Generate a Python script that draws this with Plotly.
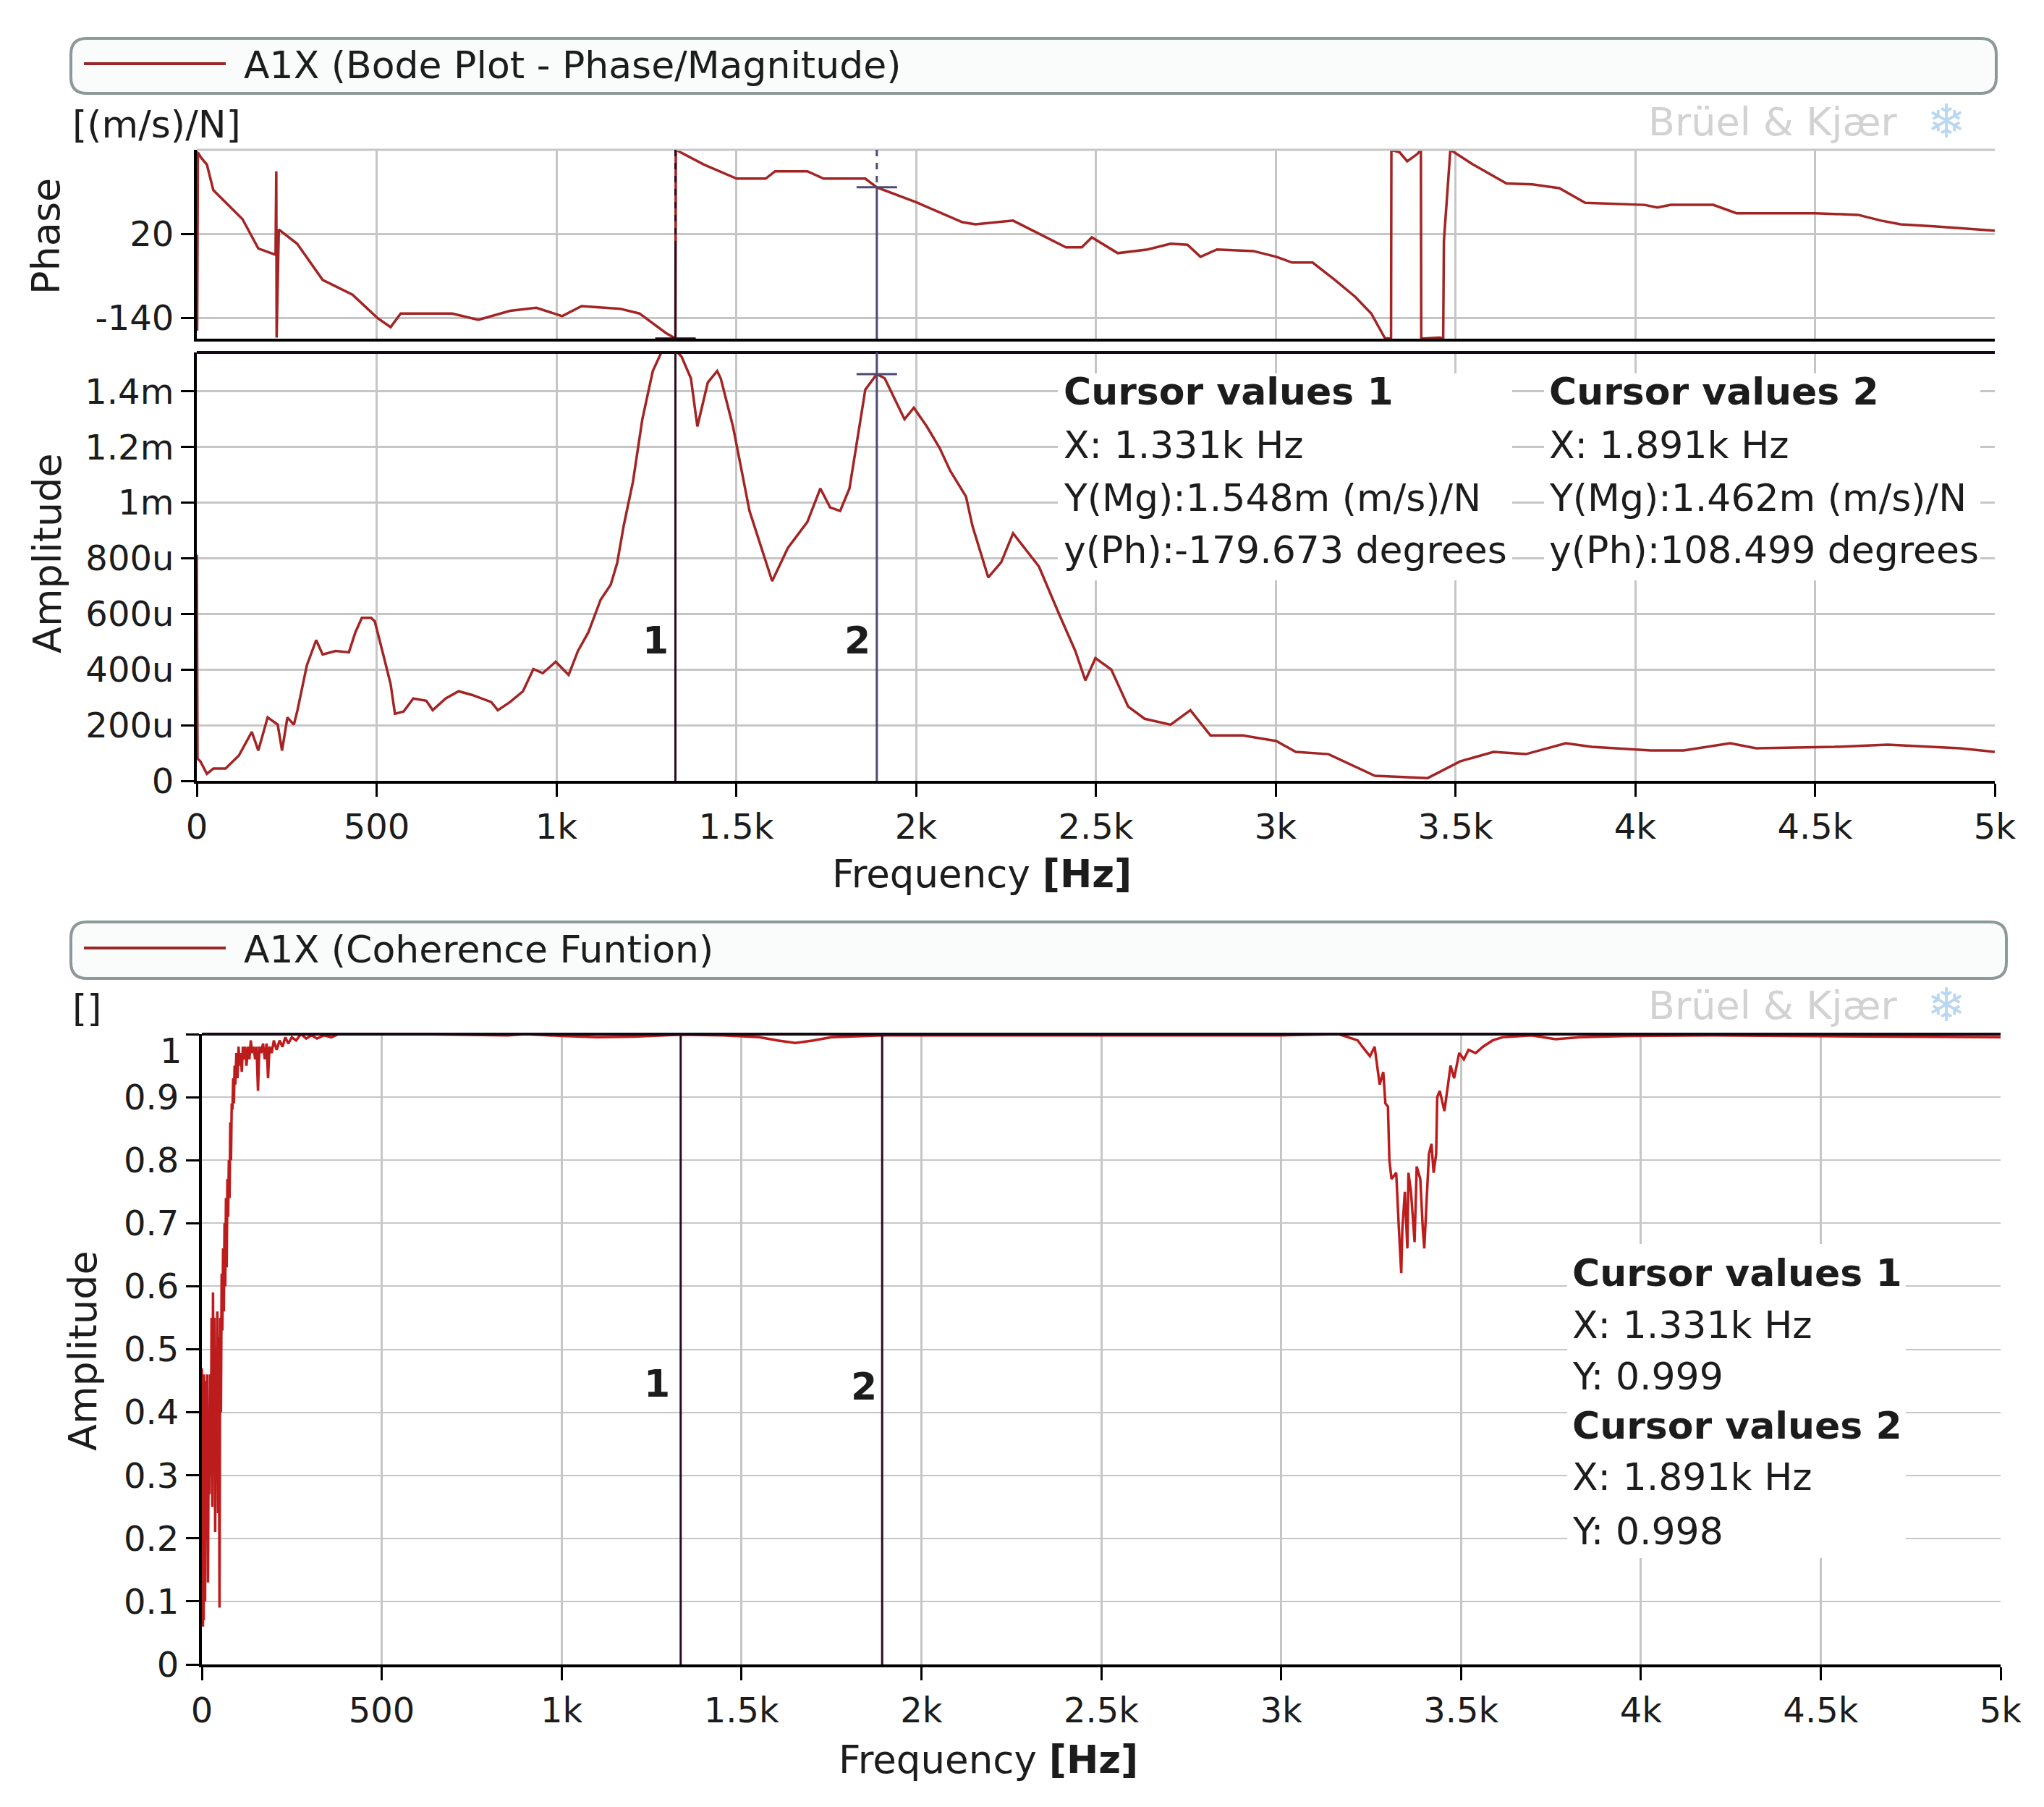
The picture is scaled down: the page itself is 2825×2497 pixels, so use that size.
import plotly.graph_objects as go

W, H = 2825, 2497
FONT = "DejaVu Sans"

# ---------------- data ----------------
freq_ticks = [0, 500, 1000, 1500, 2000, 2500, 3000, 3500, 4000, 4500, 5000]
freq_tick_labels = ["0", "500", "1k", "1.5k", "2k", "2.5k", "3k", "3.5k", "4k", "4.5k", "5k"]

phase_ticks = [-140, 20]
phase_tick_labels = ["-140", "20"]

amp_ticks = [0, 200, 400, 600, 800, 1000, 1200, 1400]          # in micro (m/s)/N
amp_tick_labels = ["0", "200u", "400u", "600u", "800u", "1m", "1.2m", "1.4m"]

coh_ticks = [0, 0.1, 0.2, 0.3, 0.4, 0.5, 0.6, 0.7, 0.8, 0.9, 1.0]
coh_tick_labels = ["0", "0.1", "0.2", "0.3", "0.4", "0.5", "0.6", "0.7", "0.8", "0.9", ""]

phase_freq = [0, 1, 3, 12, 28, 46, 127, 171, 207, 219, 221, 222, 228, 279, 350, 433, 503,
              539, 567, 620, 710, 783, 871, 944, 1016, 1070, 1177, 1231, 1304, 1331, 1332,
              1410, 1501, 1582, 1608, 1698, 1743, 1859, 1891, 2004, 2129, 2165, 2270, 2417,
              2461, 2489, 2561, 2644, 2708, 2755, 2791, 2837, 2938, 3002, 3046, 3103, 3165,
              3221, 3266, 3304, 3321, 3322, 3345, 3366, 3394, 3404, 3405, 3457, 3466, 3468,
              3486, 3549, 3642, 3714, 3789, 3861, 4026, 4062, 4099, 4217, 4282, 4501, 4620,
              4684, 4738, 4831, 4922, 5000]
phase_val = [180, -165, 175, 165, 152, 103, 48, -8, -17, -20, 139, -178, 28, 1, -68, -96, -141,
             -158, -132, -132, -132, -144, -127, -121, -137, -118, -123, -132, -169, -179.673, 180,
             152, 125, 125, 139, 139, 125, 125, 108.499, 79, 42, 38, 45, -6,
             -6, 13, -17, -10, 1, -1, -24, -10, -13, -24, -35, -35, -68,
             -100, -132, -179, -180, 180, 175, 158, 172, 180, -180, -178, -180, 6,
             180, 152, 116, 114, 107, 79, 75, 70, 75, 75, 59, 59, 56,
             45, 38, 34, 30, 26]

amp_freq = [0, 2, 10, 28, 46, 80, 117, 153, 171, 197, 225, 237, 252, 270, 280, 306, 332, 350,
            386, 423, 441, 459, 485, 495, 521, 539, 551, 575, 602, 638, 656, 692, 728, 765,
            819, 837, 871, 907, 936, 962, 998, 1034, 1060, 1089, 1123, 1151, 1169, 1187, 1213,
            1239, 1268, 1294, 1331, 1348, 1374, 1392, 1421, 1447, 1457, 1491, 1537, 1600, 1644,
            1698, 1734, 1761, 1789, 1815, 1859, 1891, 1913, 1942, 1968, 1994, 2030, 2066, 2095,
            2139, 2157, 2201, 2237, 2270, 2342, 2398, 2443, 2471, 2499, 2543, 2590, 2636, 2708,
            2763, 2819, 2909, 3002, 3056, 3147, 3276, 3423, 3513, 3606, 3696, 3807, 3879, 4044,
            4135, 4264, 4336, 4555, 4702, 4903, 5000]
amp_val = [812, 80, 70, 25, 44, 44, 91, 176, 109, 228, 202, 109, 228, 202, 254, 415, 506, 454,
           467, 462, 534, 586, 586, 573, 441, 348, 241, 249, 296, 288, 254, 296, 322, 309,
           283, 254, 283, 322, 402, 387, 428, 381, 467, 534, 651, 705, 783, 916, 1076,
           1300, 1473, 1546, 1548, 1525, 1447, 1274, 1432, 1473, 1447, 1274, 970, 718, 838,
           931, 1051, 983, 970, 1051, 1406, 1462, 1447, 1367, 1300, 1341, 1274, 1196, 1115,
           1022, 916, 731, 786, 890, 770, 599, 467, 361, 441, 400, 267, 223, 202,
           254, 163, 163, 143, 104, 96, 18, 10, 70, 104, 96, 135, 122, 109,
           109, 135, 117, 122, 130, 117, 104]

coh_freq = [0, 1, 2, 3, 4, 5, 6, 7, 8, 9, 10, 12, 13, 15, 17, 19, 21, 23, 25, 27, 29, 31, 33,
            35, 37, 39, 41, 43, 45, 47, 49, 51, 53, 55, 57, 59, 61, 63, 65, 67, 69, 71, 73, 75,
            77, 79, 81, 83, 85, 87, 89, 91, 93, 96, 99, 102, 105, 108, 111, 114, 117, 120, 124,
            128, 132, 136, 140, 144, 148, 152, 156, 160, 165, 170, 175, 180, 184, 188, 194, 200,
            208, 216, 224, 232, 240, 250, 262, 275, 290, 305, 320, 340, 360, 380, 600, 850, 900,
            1000, 1100, 1200, 1331, 1450, 1550, 1600, 1650, 1700, 1750, 1891, 2000, 2200, 2500,
            2800, 3000, 3160, 3186, 3213, 3226, 3247, 3260, 3267, 3274, 3284, 3290, 3297, 3301,
            3307, 3320, 3327, 3334, 3337, 3344, 3351, 3354, 3361, 3371, 3377, 3387, 3394, 3398,
            3404, 3411, 3418, 3424, 3431, 3434, 3441, 3454, 3464, 3471, 3481, 3495, 3508, 3521,
            3541, 3561, 3588, 3615, 3696, 3763, 3830, 3964, 4200, 4500, 4800, 5000]
coh_val = [0.47, 0.08, 0.44, 0.06, 0.38, 0.07, 0.46, 0.15, 0.42, 0.10, 0.33, 0.45, 0.20, 0.46,
           0.13, 0.38, 0.27, 0.46, 0.30, 0.55, 0.25, 0.59, 0.32, 0.55, 0.21, 0.50, 0.30, 0.56,
           0.24, 0.52, 0.09, 0.55, 0.40, 0.62, 0.53, 0.66, 0.56, 0.70, 0.60, 0.74, 0.63, 0.77,
           0.71, 0.80, 0.74, 0.86, 0.80, 0.89, 0.88, 0.93, 0.89, 0.95, 0.92, 0.97, 0.93, 0.98,
           0.95, 0.97, 0.94, 0.98, 0.96, 0.98, 0.95, 0.98, 0.96, 0.99, 0.97, 0.98, 0.96, 0.98,
           0.91, 0.98, 0.97, 0.985, 0.96, 0.985, 0.93, 0.98, 0.97, 0.99, 0.975, 0.99, 0.98,
           0.995, 0.985, 0.995, 0.99, 1.0, 0.993, 0.998, 0.993, 0.998, 0.995, 1.0, 1.0, 0.998,
           1.0, 0.997, 0.995, 0.996, 0.999, 0.998, 0.995, 0.99, 0.986, 0.99, 0.995, 0.998,
           0.998, 0.997, 0.998, 0.997, 0.998, 1.0, 0.995, 0.99, 0.98, 0.965, 0.98, 0.95, 0.92,
           0.94, 0.89, 0.885, 0.80, 0.77, 0.78, 0.696, 0.621, 0.69, 0.75, 0.66, 0.78, 0.75,
           0.67, 0.79, 0.77, 0.69, 0.66, 0.73, 0.81, 0.826, 0.78, 0.81, 0.90, 0.91, 0.878,
           0.92, 0.95, 0.93, 0.97, 0.96, 0.975, 0.97, 0.98, 0.99, 0.995, 0.998, 0.992, 0.995,
           0.997, 0.998, 0.997, 0.996, 0.995]

cursor_freq = [1331, 1891]
cursor_mag = [1548, 1462]          # micro (m/s)/N
cursor_phase = [-179.673, 108.499]
cursor_coh = [0.999, 0.998]

# ---------------- helpers ----------------
def PX(x):
    return x / W


def PY(y):
    return 1 - y / H


def rrect(x0, y0, x1, y1, r):
    X, Y = PX, PY
    return (f"M {X(x0 + r)},{Y(y0)} L {X(x1 - r)},{Y(y0)} Q {X(x1)},{Y(y0)} {X(x1)},{Y(y0 + r)} "
            f"L {X(x1)},{Y(y1 - r)} Q {X(x1)},{Y(y1)} {X(x1 - r)},{Y(y1)} L {X(x0 + r)},{Y(y1)} "
            f"Q {X(x0)},{Y(y1)} {X(x0)},{Y(y1 - r)} L {X(x0)},{Y(y0 + r)} Q {X(x0)},{Y(y0)} {X(x0 + r)},{Y(y0)} Z")


TRACE = "#a32424"
TRACE_COH = "#bd1c1c"
TXT = "#1c1c1c"
GRID = "#c6c6c6"
CUR_TOP = ["#2b0c1f", "#4d4a6e"]
CUR_BOT = ["#2b0c1f", "#2b0c1f"]

fig = go.Figure()

fig.add_trace(go.Scatter(x=amp_freq, y=amp_val, xaxis="x", yaxis="y2", mode="lines",
                         line=dict(color=TRACE, width=3.5), hoverinfo="skip"))
fig.add_trace(go.Scatter(x=phase_freq, y=phase_val, xaxis="x2", yaxis="y", mode="lines",
                         line=dict(color=TRACE, width=3.5), hoverinfo="skip"))
fig.add_trace(go.Scatter(x=coh_freq, y=coh_val, xaxis="x3", yaxis="y3", mode="lines",
                         line=dict(color=TRACE_COH, width=3.5), hoverinfo="skip"))

# cursor markers
for i in range(2):
    fig.add_trace(go.Scatter(x=[cursor_freq[i]], y=[cursor_mag[i]], xaxis="x", yaxis="y2",
                             mode="markers", cliponaxis=False, hoverinfo="skip",
                             marker=dict(symbol="line-ew", size=40, line=dict(color=CUR_TOP[i], width=3))))
    fig.add_trace(go.Scatter(x=[cursor_freq[i]], y=[cursor_phase[i]], xaxis="x2", yaxis="y",
                             mode="markers", cliponaxis=False, hoverinfo="skip",
                             marker=dict(symbol="line-ew", size=40, line=dict(color=CUR_TOP[i], width=3))))

axis_common = dict(showgrid=True, gridcolor=GRID, gridwidth=3, zeroline=False,
                   ticks="outside", ticklen=18, tickwidth=3, tickcolor="#000",
                   tickfont=dict(family=FONT, size=48, color=TXT),
                   linecolor="#000", linewidth=4, showline=True, fixedrange=True)

fig.update_layout(
    width=W, height=H, margin=dict(l=0, r=0, t=0, b=0, autoexpand=False),
    paper_bgcolor="white", plot_bgcolor="white", showlegend=False,
    font=dict(family=FONT, color=TXT),
    xaxis=dict(domain=[PX(272), PX(2757)], anchor="y2", range=[0, 5000],
               tickvals=freq_ticks, ticktext=freq_tick_labels, **axis_common),
    xaxis2=dict(domain=[PX(272), PX(2757)], anchor="y", range=[0, 5000],
                tickvals=freq_ticks, showticklabels=False,
                **{**axis_common, "ticks": ""}),
    yaxis=dict(domain=[PY(468), PY(207)], anchor="x2", range=[-180, 180],
               tickvals=phase_ticks, ticktext=phase_tick_labels, **axis_common),
    yaxis2=dict(domain=[PY(1079), PY(487)], anchor="x", range=[0, 1540],
                tickvals=amp_ticks, ticktext=amp_tick_labels, **axis_common),
    xaxis3=dict(domain=[PX(279), PX(2765)], anchor="y3", range=[0, 5000],
                tickvals=freq_ticks, ticktext=freq_tick_labels, **axis_common),
    yaxis3=dict(domain=[PY(2300), PY(1429)], anchor="x3", range=[0, 1],
                tickvals=coh_ticks, ticktext=coh_tick_labels,
                **{**axis_common, "gridwidth": 2}),
)

shapes = []
# frame lines
shapes.append(dict(type="line", xref="paper", yref="paper", x0=PX(272), x1=PX(2757), y0=PY(207), y1=PY(207),
                   line=dict(color=GRID, width=3)))
shapes.append(dict(type="line", xref="paper", yref="paper", x0=PX(272), x1=PX(2757), y0=PY(487), y1=PY(487),
                   line=dict(color="#140814", width=4)))
shapes.append(dict(type="line", xref="paper", yref="paper", x0=PX(279), x1=PX(2765), y0=PY(1429), y1=PY(1429),
                   line=dict(color="#140814", width=4)))

# cursor lines
phase_dash_end = [3, cursor_phase[1]]
for i in range(2):
    f = cursor_freq[i]
    shapes.append(dict(type="line", xref="x", yref="y2", x0=f, x1=f, y0=0, y1=1540,
                       line=dict(color=CUR_TOP[i], width=3)))
    shapes.append(dict(type="line", xref="x2", yref="y", x0=f, x1=f, y0=180, y1=phase_dash_end[i],
                       line=dict(color=CUR_TOP[i], width=3, dash="dash")))
    shapes.append(dict(type="line", xref="x2", yref="y", x0=f, x1=f, y0=phase_dash_end[i], y1=-180,
                       line=dict(color=CUR_TOP[i], width=3)))
    shapes.append(dict(type="line", xref="x3", yref="y3", x0=f, x1=f, y0=0, y1=1,
                       line=dict(color=CUR_BOT[i], width=3)))

# legend boxes
for (x0, y0, x1, y1, ly) in [(98, 53, 2759, 129, 88), (98, 1274, 2773, 1352, 1310)]:
    shapes.append(dict(type="path", xref="paper", yref="paper", path=rrect(x0, y0, x1, y1, 22),
                       line=dict(color="#8d9898", width=4), fillcolor="#fafcfc", layer="below"))
    shapes.append(dict(type="line", xref="paper", yref="paper", x0=PX(116), x1=PX(312), y0=PY(ly), y1=PY(ly),
                       line=dict(color="#9a2626", width=4)))

# white boxes behind cursor value text
for (x0, y0, x1, y1) in [(1462, 516, 2090, 802), (2134, 516, 2737, 802), (2166, 1719, 2634, 2153)]:
    shapes.append(dict(type="rect", xref="paper", yref="paper", x0=PX(x0), x1=PX(x1), y0=PY(y0), y1=PY(y1),
                       line=dict(width=0), fillcolor="white", layer="above"))

fig.update_layout(shapes=shapes)

ann = []


def text(x, y, s, size=52, xanchor="left", yanchor="middle", color=TXT, angle=0):
    ann.append(dict(x=PX(x), y=PY(y), xref="paper", yref="paper", text=s, showarrow=False,
                    xanchor=xanchor, yanchor=yanchor, textangle=angle,
                    font=dict(family=FONT, size=size, color=color)))


# legends and units
text(335, 90, "A1X (Bode Plot - Phase/Magnitude)")
text(335, 1312, "A1X (Coherence Funtion)")
text(98, 172, "[(m/s)/N]")
text(98, 1393, "[]")

# watermark logos
for y in (168, 1389):
    text(2625, y, "Brüel &amp; Kjær", size=54, xanchor="right", color="#d2d2d2")
    text(2690, y, "❄", size=64, xanchor="center", color="#b9d7f0")

# axis titles
text(63, 327, "Phase", size=54, xanchor="center", angle=-90)
text(65, 765, "Amplitude", size=54, xanchor="center", angle=-90)
text(114, 1866, "Amplitude", size=54, xanchor="center", angle=-90)
text(1148, 1207, "Frequency <b>[Hz]</b>", size=53)
text(1157, 2431, "Frequency <b>[Hz]</b>", size=53)

# coherence '1' tick label
text(254, 1452, "1", size=48, xanchor="right")

# cursor numbers
text(906, 885, "<b>1</b>", xanchor="center")
text(1185, 885, "<b>2</b>", xanchor="center")
text(908, 1912, "<b>1</b>", xanchor="center")
text(1194, 1916, "<b>2</b>", xanchor="center")

# cursor value texts
top_y = [541, 615, 688, 760]
for i, x0 in enumerate([1468, 2139]):
    lines = [f"<b>Cursor values {i + 1}</b>",
             f"X: {cursor_freq[i] / 1000:.3f}k Hz",
             f"Y(Mg):{cursor_mag[i] / 1000:.3f}m (m/s)/N",
             f"y(Ph):{cursor_phase[i]:.3f} degrees"]
    for s, y in zip(lines, top_y):
        text(x0, y, s)

bot_lines = []
for i in range(2):
    bot_lines += [f"<b>Cursor values {i + 1}</b>",
                  f"X: {cursor_freq[i] / 1000:.3f}k Hz",
                  f"Y: {cursor_coh[i]:.3f}"]
for s, y in zip(bot_lines, [1759, 1831, 1902, 1970, 2041, 2116]):
    text(2171, y, s)

fig.update_layout(annotations=ann)

fig.write_html("out.html", include_plotlyjs=True, full_html=True,
               config={"displayModeBar": False, "staticPlot": True},
               post_script="document.body.style.margin='0px';document.body.style.padding='0px';"
                           "document.documentElement.style.overflow='hidden';")
